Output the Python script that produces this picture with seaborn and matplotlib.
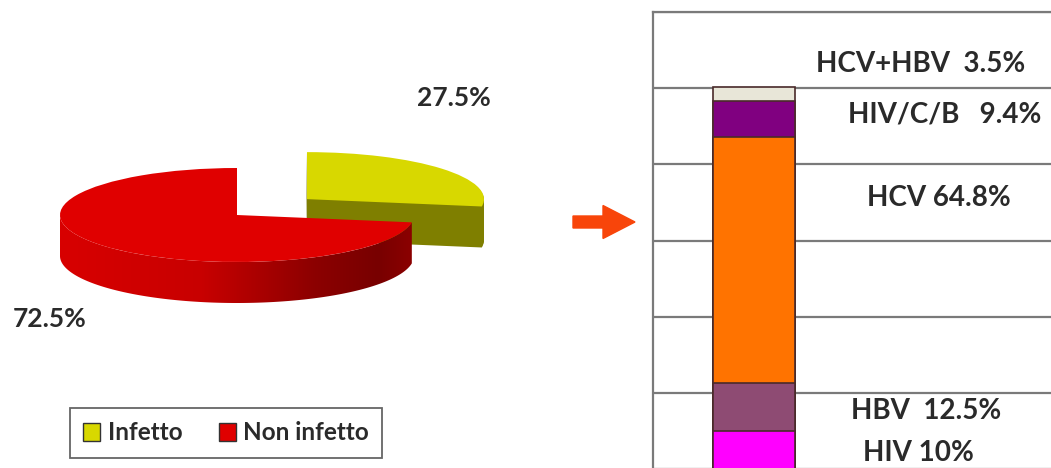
import numpy as np
import pandas as pd
import seaborn as sns
import matplotlib
matplotlib.use("Agg")
import matplotlib.pyplot as plt
from matplotlib.patches import Polygon, Patch, FancyArrow
from matplotlib.colors import LinearSegmentedColormap

# ---------------- data ----------------
pie_labels = ["Non infetto", "Infetto"]
pie_values = [72.5, 27.5]
pie_texts = ["72.5%", "27.5%"]

bar_categories = ["HIV", "HBV", "HCV", "HIV/C/B", "HCV+HBV"]
bar_values = [10.0, 12.5, 64.8, 9.4, 3.5]
bar_texts = ["HIV 10%", "HBV  12.5%", "HCV 64.8%", "HIV/C/B   9.4%", "HCV+HBV  3.5%"]
grid_ticks = [0, 20, 40, 60, 80, 100, 120]

# ---------------- style ----------------
sns.set_theme(style="white")
plt.rcParams["font.family"] = ["Lato", "DejaVu Sans"]

W, H = 1051, 468
fig = plt.figure(figsize=(W / 100, H / 100), dpi=100)

top_colors = {"Non infetto": "#E00000", "Infetto": "#D8D800"}
side_colors = {"Non infetto": "#A00000", "Infetto": "#7F7F00"}
txt_color = "#2a2a2a"

# ---------------- 3D-looking pie ----------------
cx, cy = 237, 215       # pixel centre of pie
rx, ry = 177, 47        # pixel radii
ax_l_w = 560
axp = fig.add_axes([0, 0, ax_l_w / W, 1])
xlim = (-cx / rx, (ax_l_w - cx) / rx)
ylim = (-(H - cy) / ry, cy / ry)
depth = 41 / ry
explode = [0, 0.52]
cols_top = [top_colors[l] for l in pie_labels]

# side layers of the yellow (exploded) slice
n_layers = 40
for k in range(n_layers):
    off = -depth * (1 - k / n_layers)
    wl, _ = axp.pie(pie_values, startangle=90, explode=explode, center=(0, off),
                    colors=["none", side_colors["Infetto"]],
                    wedgeprops=dict(linewidth=0))
    wl[0].set_visible(False)
    wl[1].set_zorder(1)

# top faces
wedges, _ = axp.pie(pie_values, startangle=90, explode=explode, colors=cols_top,
                    wedgeprops=dict(linewidth=0))
wedges[1].set_zorder(2)
wedges[0].set_zorder(4)

# front band of the red slice, shaded with a horizontal gradient
w0 = wedges[0]
t1, t2 = max(w0.theta1, 180), min(w0.theta2, 360)
th = np.radians(np.linspace(t1, t2, 200))
top_arc = np.column_stack([np.cos(th), np.sin(th)])
bot_arc = np.column_stack([np.cos(th[::-1]), np.sin(th[::-1]) - depth])
band = Polygon(np.vstack([top_arc, bot_arc]), closed=True, facecolor="none",
               edgecolor="none", transform=axp.transData)
axp.add_patch(band)
cmap = LinearSegmentedColormap.from_list(
    "redside", [(0.0, "#D80000"), (0.4, "#C80000"), (0.72, "#8C0000"),
                (0.9, "#780000"), (1.0, "#8C0000")])
grad = np.linspace(0, 1, 256).reshape(1, -1)
img = axp.imshow(grad, cmap=cmap, extent=(-1, 1, -1 - depth, 0.2), aspect="auto",
                 zorder=3)
img.set_clip_path(band)

axp.set_aspect("auto")
axp.set_xlim(*xlim)
axp.set_ylim(*ylim)
axp.axis("off")

# percentage labels
def fig_xy(px, py):
    return px / W, 1 - py / H

fig.text(*fig_xy(454, 98), pie_texts[1], ha="center", va="center", fontsize=19,
         fontweight="bold", color=txt_color)
fig.text(*fig_xy(50, 319), pie_texts[0], ha="center", va="center", fontsize=19,
         fontweight="bold", color=txt_color)

# legend
handles = [Patch(facecolor=top_colors["Infetto"], edgecolor="#333333", linewidth=1.0),
           Patch(facecolor=top_colors["Non infetto"], edgecolor="#333333", linewidth=1.0)]
leg = fig.legend(handles, ["Infetto", "Non infetto"], ncol=2, loc="center",
                 bbox_to_anchor=fig_xy(226, 433),
                 prop=dict(size=17.5, weight="bold"), frameon=True,
                 fancybox=False, handlelength=0.7, handleheight=0.7,
                 handletextpad=0.3, columnspacing=1.5, borderpad=0.55)
leg.get_frame().set_edgecolor("#404040")
leg.get_frame().set_linewidth(1.3)
for t in leg.get_texts():
    t.set_color(txt_color)

# arrow
arrow = FancyArrow(5.73, 2.46, 0.30, 0, width=0.12, head_width=0.33,
                   head_length=0.32, length_includes_head=False,
                   color="#F8450A", transform=fig.dpi_scale_trans)
fig.patches.append(arrow)

# ---------------- stacked bar ----------------
left_px, top_px, bot_px = 653, 12, 469
axb = fig.add_axes([left_px / W, (H - bot_px) / H, 1 - left_px / W,
                    (bot_px - top_px) / H])
bar_colors = ["#FF00FF", "#8E4B73", "#FF7300", "#800080", "#E8E6D8"]
cum = np.cumsum(bar_values)
for i in range(len(bar_values) - 1, -1, -1):
    df = pd.DataFrame({"g": ["Infetto"], "v": [cum[i]]})
    sns.barplot(data=df, x="g", y="v", color=bar_colors[i], saturation=1,
                width=0.8, edgecolor="#4a2a2a", linewidth=1.2, ax=axb, zorder=3)

px_per_unit = 82 / 0.8
axb.set_xlim(-0.4 - (713 - left_px) / px_per_unit, 0.4 + (W - 795) / px_per_unit)
axb.set_ylim(grid_ticks[0], grid_ticks[-1])
axb.set_yticks(grid_ticks)
axb.set_xticks([])
axb.tick_params(axis="y", length=0, labelleft=False)
axb.set_xlabel("")
axb.set_ylabel("")
axb.yaxis.grid(True, color="#7a7a7a", linewidth=1.6)
axb.xaxis.grid(False)
axb.set_axisbelow(True)
for s in ["right", "bottom"]:
    axb.spines[s].set_visible(False)
for s in ["top", "left"]:
    axb.spines[s].set_color("#7a7a7a")
    axb.spines[s].set_linewidth(1.6)

# segment labels (pixel positions converted to data units)
label_px = [(918, 453), (926, 411), (939, 198), (945, 114), (921, 64)]
ppu_y = (bot_px - top_px) / (grid_ticks[-1] - grid_ticks[0])
for (lx, ly), t in zip(label_px, bar_texts):
    xd = -0.4 + (lx - 713) / px_per_unit
    yd = (bot_px - ly) / ppu_y
    axb.text(xd, yd, t, ha="center", va="center", fontsize=20, fontweight="bold",
             color=txt_color, clip_on=False)

fig.savefig("out.png", dpi=100)
